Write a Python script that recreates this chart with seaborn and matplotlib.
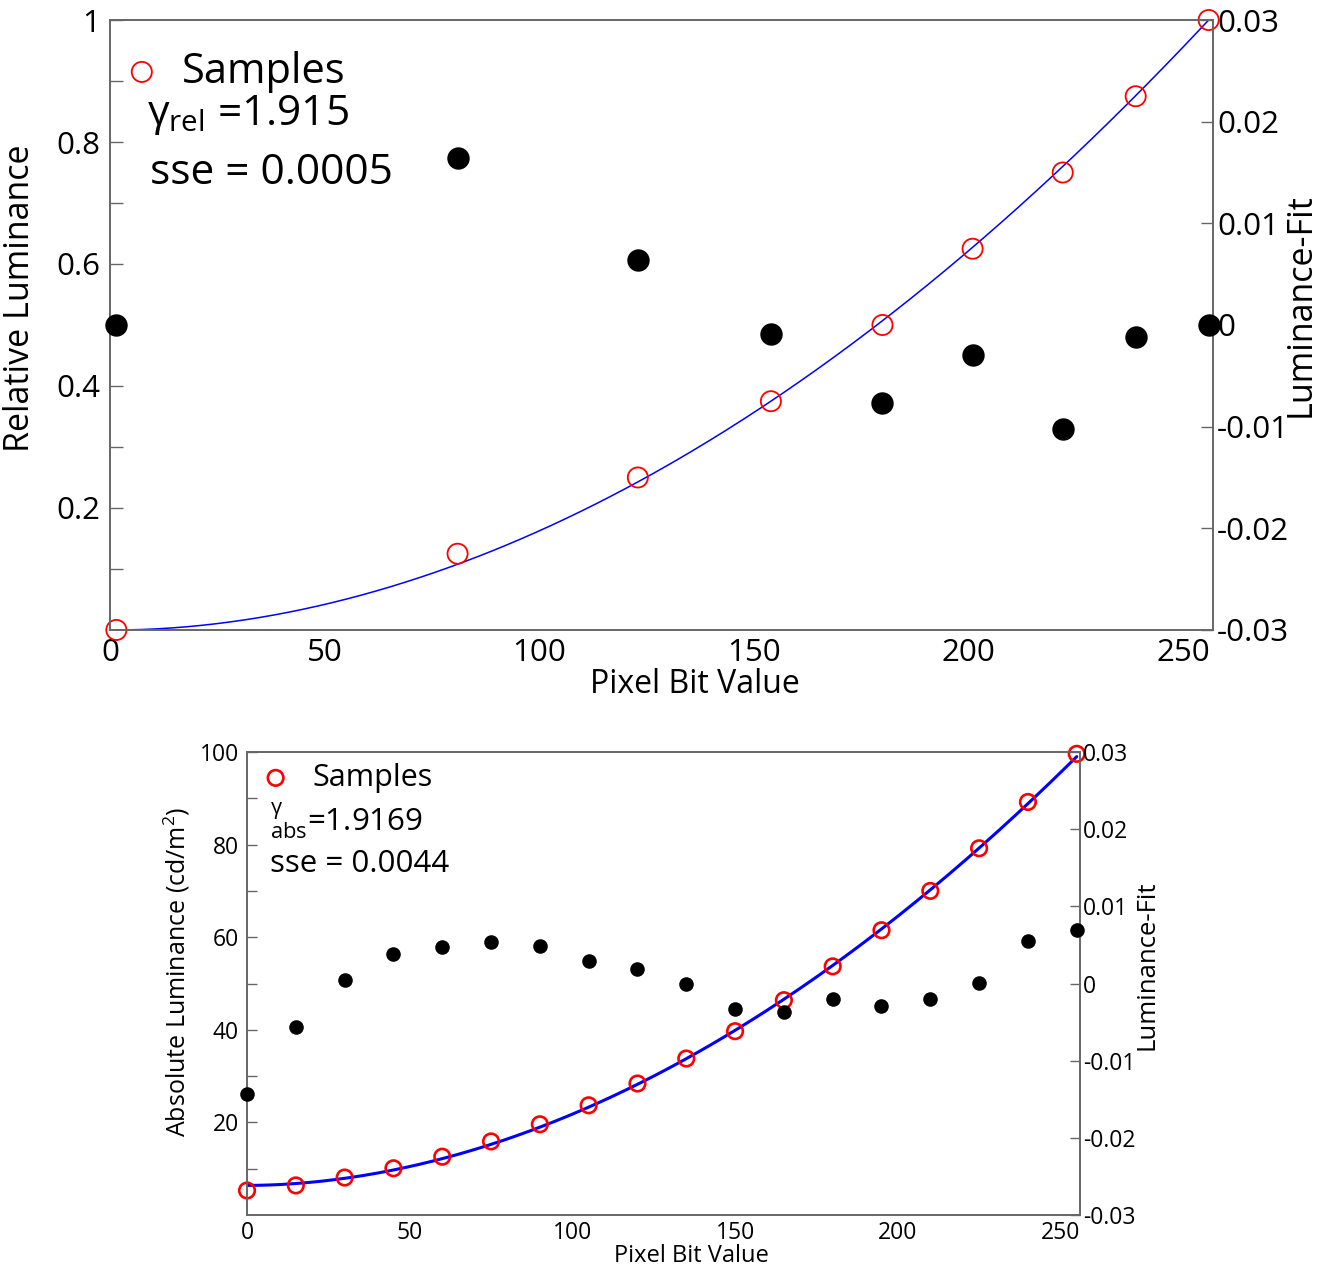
import numpy as np
import matplotlib.pyplot as plt
import seaborn as sns

# --- data ---
# top panel: relative luminance
rel_pixel = [1.5, 81, 123, 154, 180, 201, 222, 239, 256]
rel_lum = [0.0, 0.125, 0.25, 0.375, 0.5, 0.625, 0.75, 0.875, 1.0]
rel_resid = [0.0, 0.0164, 0.0064, -0.0009, -0.0077, -0.003, -0.0102, -0.0012, 0.0]
gamma_rel = 1.915
sse_rel = 0.0005

# bottom panel: absolute luminance (cd/m^2)
abs_pixel = [0, 15, 30, 45, 60, 75, 90, 105, 120, 135, 150, 165, 180, 195, 210, 225, 240, 255]
abs_lum = [5.3, 6.4, 8.1, 10.1, 12.6, 15.9, 19.6, 23.7, 28.4, 33.8, 39.7, 46.4,
           53.7, 61.5, 70.0, 79.2, 89.2, 99.6]
abs_resid = [-0.0143, -0.0056, 0.0005, 0.0038, 0.0047, 0.0054, 0.0049, 0.0029, 0.0019,
             -0.0001, -0.0033, -0.0037, -0.002, -0.0029, -0.002, 0.0001, 0.0055, 0.0069]
gamma_abs = 1.9169
sse_abs = 0.0044
abs_min, abs_max = 6.4, 99.0   # fit offset / peak

resid_ticks = [-0.03, -0.02, -0.01, 0, 0.01, 0.02, 0.03]
resid_labels = ['-0.03', '-0.02', '-0.01', '0', '0.01', '0.02', '0.03']

sns.set_style('white')
plt.rcParams['font.family'] = ['Open Sans', 'DejaVu Sans']
plt.rcParams['mathtext.fontset'] = 'custom'
plt.rcParams['mathtext.rm'] = 'Open Sans'
plt.rcParams['mathtext.it'] = 'Open Sans'
plt.rcParams['axes.unicode_minus'] = False
plt.rcParams['text.color'] = 'black'
plt.rcParams['axes.labelcolor'] = 'black'

SPINE = '#666666'


def style_axes(ax, size, tick_len):
    for sp in ax.spines.values():
        sp.set_color(SPINE)
        sp.set_linewidth(1.2)
    ax.tick_params(which='both', direction='in', length=tick_len, width=1,
                   color=SPINE, labelsize=size, labelcolor='black')


fig = plt.figure(figsize=(13.31, 12.67), dpi=100)

# ---------------- top panel ----------------
ax1 = fig.add_axes([0.0826, 0.5028, 0.8287, 0.4814])
ax1r = ax1.twinx()

xf = np.linspace(rel_pixel[0], rel_pixel[-1], 300)
yf = ((xf - rel_pixel[0]) / (rel_pixel[-1] - rel_pixel[0])) ** gamma_rel
sns.lineplot(x=xf, y=yf, ax=ax1, color='blue', lw=1.1, zorder=2)
sns.scatterplot(x=rel_pixel, y=rel_lum, ax=ax1, marker='o', s=210,
                facecolor='none', edgecolor='red', linewidth=1.3,
                label='Samples', zorder=3, clip_on=False)
sns.scatterplot(x=rel_pixel, y=rel_resid, ax=ax1r, color='black', s=260,
                edgecolor='black', linewidth=0, clip_on=False, zorder=4)

ax1.set_xlim(0, 257)
ax1.set_ylim(0, 1)
ax1r.set_ylim(-0.03, 0.03)
ax1.set_xticks([0, 50, 100, 150, 200, 250])
ax1.set_yticks([0.2, 0.4, 0.6, 0.8, 1.0])
ax1.set_yticklabels(['0.2', '0.4', '0.6', '0.8', '1'])
ax1.set_yticks([0.1, 0.3, 0.5, 0.7, 0.9], minor=True)
ax1r.set_yticks(resid_ticks)
ax1r.set_yticklabels(resid_labels)
style_axes(ax1, 22.5, 9)
style_axes(ax1r, 22.5, 9)
ax1.tick_params(axis='x', which='both', top=False, pad=6)
ax1.tick_params(axis='y', which='both', right=False, pad=7)
ax1r.tick_params(axis='y', left=False, pad=3)

ax1.set_xlabel('Pixel Bit Value', fontsize=23)
ax1.xaxis.set_label_coords(0.53, -0.062)
ax1.set_ylabel('Relative Luminance', fontsize=24.5)
ax1.yaxis.set_label_coords(-0.066, 0.544)
ax1r.set_ylabel('Luminance-Fit', fontsize=24.5)
ax1r.yaxis.set_label_coords(1.064, 0.533)

ax1.legend(loc='center left', bbox_to_anchor=(0.010, 0.915), frameon=False,
           fontsize=30, handlelength=1.0, handletextpad=0.45,
           borderpad=0, borderaxespad=0)
ax1.text(0.034, 0.844, r'$\gamma_{\mathrm{rel}}$ =' + f'{gamma_rel}', transform=ax1.transAxes,
         fontsize=30.5, va='center', ha='left')
ax1.text(0.036, 0.749, f'sse = {sse_rel:.4f}', transform=ax1.transAxes,
         fontsize=30.5, va='center', ha='left')

# ---------------- bottom panel ----------------
ax2 = fig.add_axes([0.1856, 0.0410, 0.6258, 0.3655])
ax2r = ax2.twinx()

xf2 = np.linspace(abs_pixel[0], abs_pixel[-1], 300)
yf2 = abs_min + (abs_max - abs_min) * (xf2 / abs_pixel[-1]) ** gamma_abs
sns.lineplot(x=xf2, y=yf2, ax=ax2, color='blue', lw=2.2, zorder=2)
sns.scatterplot(x=abs_pixel, y=abs_lum, ax=ax2, marker='o', s=125,
                facecolor='none', edgecolor='red', linewidth=1.9,
                label='Samples', zorder=3, clip_on=False)
sns.scatterplot(x=abs_pixel, y=abs_resid, ax=ax2r, color='black', s=110,
                edgecolor='black', linewidth=0, clip_on=False, zorder=4)

ax2.set_xlim(0, 256)
ax2.set_ylim(0, 100)
ax2r.set_ylim(-0.03, 0.03)
ax2.set_xticks([0, 50, 100, 150, 200, 250])
ax2.set_yticks([20, 40, 60, 80, 100])
ax2.set_yticks([10, 30, 50, 70, 90], minor=True)
ax2r.set_yticks(resid_ticks)
ax2r.set_yticklabels(resid_labels)
style_axes(ax2, 16.5, 7)
style_axes(ax2r, 16.5, 7)
ax2.tick_params(axis='x', which='both', top=False, pad=4)
ax2.tick_params(axis='y', which='both', right=False, pad=6)
ax2r.tick_params(axis='y', left=False, pad=2)

ax2.set_xlabel('Pixel Bit Value', fontsize=17)
ax2.xaxis.set_label_coords(0.534, -0.062)
ax2.set_ylabel('Absolute Luminance (cd/m$^2$)', fontsize=18)
ax2.yaxis.set_label_coords(-0.066, 0.525)
ax2r.set_ylabel('Luminance-Fit', fontsize=18.5)
ax2r.yaxis.set_label_coords(1.066, 0.54)

ax2.legend(loc='center left', bbox_to_anchor=(0.016, 0.944), frameon=False,
           fontsize=22, handlelength=1.0, handletextpad=0.7,
           borderpad=0, borderaxespad=0)
ax2.text(0.028, 0.849, r'$^{\gamma}_{\mathrm{abs}}$=' + f'{gamma_abs}', transform=ax2.transAxes,
         fontsize=22.5, va='center', ha='left')
ax2.text(0.028, 0.758, f'sse = {sse_abs:.4f}', transform=ax2.transAxes,
         fontsize=22.5, va='center', ha='left')

fig.savefig('out.png', dpi=100, facecolor='white')
